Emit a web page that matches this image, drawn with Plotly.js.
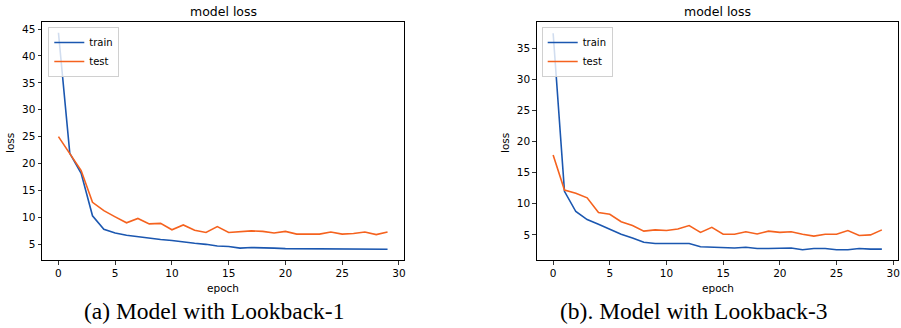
<!DOCTYPE html>
<html>
<head>
<meta charset="utf-8">
<script src="https://cdn.plot.ly/plotly-3.0.1.min.js"></script>
<style>
  html, body { margin: 0; padding: 0; background: #fff; }
  #chart { width: 901px; height: 328px; }
</style>
</head>
<body>
<div id="chart"></div>
<script>
// ---- data ----
const epochs = [0,1,2,3,4,5,6,7,8,9,10,11,12,13,14,15,16,17,18,19,20,21,22,23,24,25,26,27,28,29];

// (a) Lookback-1
const trainA = [44.3,21.9,18.2,10.3,7.8,7.1,6.7,6.4,6.1,5.9,5.7,5.4,5.2,5.0,4.7,4.6,4.3,4.4,4.4,4.3,4.2,4.2,4.1,4.1,4.2,4.1,4.1,4.1,4.1,4.1];
const testA  = [25.0,21.9,18.7,12.8,11.25,10.1,9.0,9.8,8.8,8.9,7.7,8.6,7.6,7.2,8.3,7.2,7.3,7.5,7.4,7.1,7.4,6.9,6.9,6.9,7.3,6.9,7.0,7.3,6.8,7.3];

// (b) Lookback-3
const trainB = [37.4,12.0,8.75,7.45,6.7,5.9,5.1,4.5,3.8,3.6,3.6,3.6,3.6,3.1,3.0,3.0,2.9,3.0,2.8,2.8,2.8,2.9,2.6,2.8,2.8,2.6,2.6,2.8,2.7,2.7];
const testB  = [17.85,12.2,11.7,10.95,8.6,8.3,7.1,6.5,5.6,5.8,5.7,5.95,6.5,5.4,6.2,5.1,5.1,5.5,5.15,5.6,5.4,5.5,5.1,4.8,5.1,5.1,5.7,4.9,5.0,5.8];

const seriesNames = ['train', 'test'];
const plotTitle = 'model loss';
const xLabel = 'epoch';
const yLabel = 'loss';
const captions = ['(a) Model with Lookback-1', '(b). Model with Lookback-3'];

// ---- styling ----
const W = 901, H = 328;
const BLUE = '#1b57b0';
const ORANGE = '#f5621e';
const tickFont = {family: 'DejaVu Sans', size: 10.5, color: '#000'};

function px2x(p) { return p / W; }
function px2y(p) { return 1 - p / H; }

const traces = [
  {x: epochs, y: trainA, name: seriesNames[0], mode: 'lines', line: {color: BLUE, width: 1.6}, xaxis: 'x', yaxis: 'y', legend: 'legend'},
  {x: epochs, y: testA,  name: seriesNames[1], mode: 'lines', line: {color: ORANGE, width: 1.6}, xaxis: 'x', yaxis: 'y', legend: 'legend'},
  {x: epochs, y: trainB, name: seriesNames[0], mode: 'lines', line: {color: BLUE, width: 1.6}, xaxis: 'x2', yaxis: 'y2', legend: 'legend2'},
  {x: epochs, y: testB,  name: seriesNames[1], mode: 'lines', line: {color: ORANGE, width: 1.6}, xaxis: 'x2', yaxis: 'y2', legend: 'legend2'}
];

function xAxis(domain, anchor) {
  return {
    domain: domain, anchor: anchor, range: [-1.45, 30.45],
    tick0: 0, dtick: 5, ticks: 'outside', ticklen: 3.5, tickwidth: 0.8, tickcolor: '#000',
    showline: true, mirror: true, linecolor: '#000', linewidth: 1,
    showgrid: false, zeroline: false, tickfont: tickFont
  };
}
function yAxis(domain, anchor, range) {
  return {
    domain: domain, anchor: anchor, range: range,
    tick0: 0, dtick: 5, ticks: 'outside', ticklen: 3.5, tickwidth: 0.8, tickcolor: '#000',
    showline: true, mirror: true, linecolor: '#000', linewidth: 1,
    showgrid: false, zeroline: false, tickfont: tickFont
  };
}

const yDom = [px2y(260), px2y(22)];
const legendStyle = {
  xanchor: 'left', yanchor: 'top',
  bgcolor: 'rgba(255,255,255,0.8)', bordercolor: '#d0d0d0', borderwidth: 1,
  font: {family: 'DejaVu Sans', size: 10, color: '#000'},
  tracegroupgap: 0, itemwidth: 30
};

const annFont = {family: 'DejaVu Sans', color: '#000'};
const annotations = [];
[[223, 10, 213.5], [717.5, 505, 694]].forEach((c, i) => {
  annotations.push({xref: 'paper', yref: 'paper', x: px2x(c[0]), y: px2y(11), text: plotTitle, showarrow: false,
    xanchor: 'center', yanchor: 'middle', font: Object.assign({size: 12.5}, annFont)});
  annotations.push({xref: 'paper', yref: 'paper', x: px2x(c[1]), y: px2y(143), text: yLabel, showarrow: false, textangle: -90,
    xanchor: 'center', yanchor: 'middle', font: Object.assign({size: 10.5}, annFont)});
  annotations.push({xref: 'paper', yref: 'paper', x: px2x(c[0]), y: px2y(288), text: xLabel, showarrow: false,
    xanchor: 'center', yanchor: 'middle', font: Object.assign({size: 10.5}, annFont)});
  annotations.push({xref: 'paper', yref: 'paper', x: px2x(c[2]), y: px2y(311), text: captions[i], showarrow: false,
    xanchor: 'center', yanchor: 'middle', font: {family: 'Liberation Serif', size: 23.5, color: '#000'}});
});

const layout = {
  width: W, height: H,
  margin: {l: 0, r: 0, t: 0, b: 0},
  paper_bgcolor: '#fff', plot_bgcolor: '#fff',
  showlegend: true,
  xaxis: xAxis([px2x(42), px2x(404)], 'y'),
  yaxis: yAxis(yDom, 'x', [2.09, 46.3]),
  xaxis2: xAxis([px2x(536.7), px2x(898.3)], 'y2'),
  yaxis2: yAxis(yDom, 'x2', [0.96, 39.2]),
  legend: Object.assign({x: px2x(48.3), y: px2y(27)}, legendStyle),
  legend2: Object.assign({x: px2x(541.7), y: px2y(27)}, legendStyle),
  annotations: annotations
};

Plotly.newPlot('chart', traces, layout, {staticPlot: true, displayModeBar: false});
</script>
</body>
</html>
